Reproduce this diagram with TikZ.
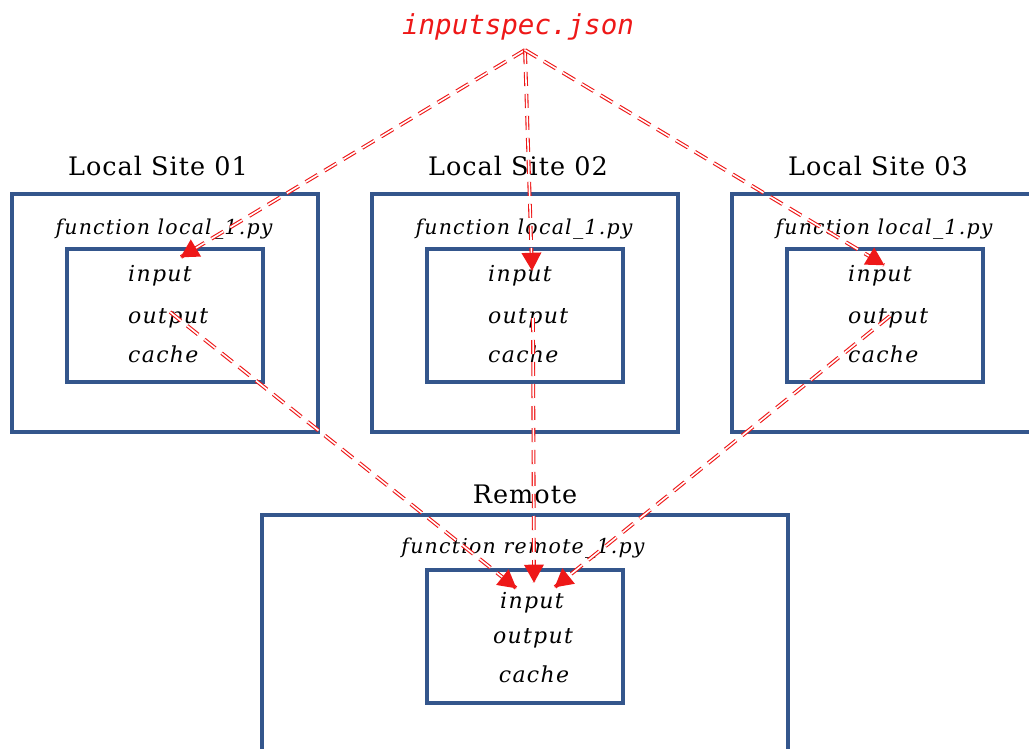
\documentclass[tikz,border=0pt]{standalone}
\usepackage{fontspec}
\setmainfont{DejaVu Serif}
\newfontfamily\titlefont[LetterSpace=4]{DejaVu Serif}
\newfontfamily\itemfont[LetterSpace=6]{DejaVu Serif}
\newfontfamily\specfont{DejaVu Sans Mono}
\usetikzlibrary{decorations.markings}
\definecolor{boxblue}{RGB}{52,86,140}
\definecolor{arrred}{RGB}{238,24,24}
\begin{document}
\begin{tikzpicture}[x=1pt,y=-1pt,
  box/.style={draw=boxblue, line width=3.5pt, inner sep=0pt, fill=none},
  titletext/.style={anchor=base, font=\titlefont\fontsize{25.5}{28}\selectfont, inner sep=0pt},
  fntext/.style={anchor=base, font=\itemfont\fontsize{20.5}{24}\selectfont\itshape, inner sep=0pt},
  itemtext/.style={anchor=base west, font=\itemfont\fontsize{22}{24}\selectfont\itshape, inner sep=0pt},
  ritemtext/.style={anchor=base, font=\itemfont\fontsize{22}{24}\selectfont\itshape, inner sep=0pt},
  flow/.style={draw=arrred, line width=1.1pt, double=white, double distance=1.6pt,
    dash pattern=on 14pt off 8pt,
    decoration={markings, mark=at position 0.999 with {\fill[arrred] (1pt,0pt) -- (-17pt,10pt) -- (-17pt,-10pt) -- cycle;}},
    postaction={decorate}}
]
\useasboundingbox (0,0) rectangle (1029,749);

% source
\node[anchor=base, inner sep=0pt, text=arrred, font=\fontsize{27.5}{30}\selectfont\specfont\itshape] (spec) at (518,35) {inputspec.json};
\coordinate (src) at (525,50);

% Local sites
\foreach \i/\dx in {1/0, 2/360, 3/720} {
  \node[box, minimum width=306pt, minimum height=238pt] (site\i) at (165+\dx,313) {};
  \node[box, minimum width=196pt, minimum height=133pt] (fn\i) at (165+\dx,315.5) {};
  \node[titletext] (title\i) at (158+\dx,176) {Local Site 0\i};
  \node[fntext] (fname\i) at (164+\dx,235) {function local\_1.py};
  \node[itemtext] (in\i) at (128+\dx,281) {input};
  \node[itemtext] (out\i) at (128+\dx,323) {output};
  \node[itemtext] (cache\i) at (128+\dx,362) {cache};
}

% Remote
\node[box, minimum width=526pt, minimum height=260pt] (remote) at (525,645) {};
\node[box, minimum width=196pt, minimum height=133pt] (rfn) at (525,636.5) {};
\node[titletext] (rtitle) at (525,503) {Remote};
\node[fntext] (rfname) at (523,553) {function remote\_1.py};
\node[ritemtext] (rin) at (532,608) {input};
\node[ritemtext] (rout) at (533,643) {output};
\node[ritemtext] (rcache) at (534,682) {cache};

% arrow end points
\coordinate (t1) at (181,257);
\coordinate (t2) at (532,270);
\coordinate (t3) at (884,265);
\coordinate (o1) at (170,312);
\coordinate (o2) at (533,318);
\coordinate (o3) at (890,316);
\coordinate (r1) at (516,588);
\coordinate (r2) at (534,582);
\coordinate (r3) at (555,587);

\draw[flow] (src) -- (t1);
\draw[flow] (src) -- (t2);
\draw[flow] (src) -- (t3);
\draw[flow] (o1) -- (r1);
\draw[flow] (o2) -- (r2);
\draw[flow] (o3) -- (r3);
\end{tikzpicture}
\end{document}
